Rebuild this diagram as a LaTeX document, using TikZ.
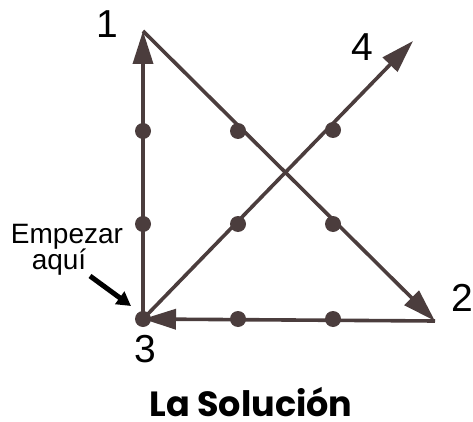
\documentclass[tikz,border=0pt]{standalone}
\usepackage{fontspec}
\setmainfont{Liberation Sans}
\newfontfamily\titlefont{Poppins}
\usetikzlibrary{arrows.meta}
\definecolor{linec}{HTML}{4B3D3D}
\tikzset{
  path/.style={draw=linec, line width=3.6pt, -{Triangle[length=33pt,width=20pt]}},
  dot/.style={circle, fill=linec, inner sep=0pt, minimum size=16pt},
  num/.style={font=\fontsize{39}{39}\selectfont, inner sep=0pt},
  lab/.style={font=\fontsize{28}{28}\selectfont, inner sep=0pt, anchor=base},
  startarrow/.style={draw=black, line width=5pt, -{Triangle[length=14pt,width=15pt]}}
}
\begin{document}
\begin{tikzpicture}[x=1pt,y=-1pt]
\useasboundingbox (0,0) rectangle (473,422);
% vertices
\coordinate (p1) at (143,31);
\coordinate (p2) at (435,321);
\coordinate (p3) at (143,319);
\coordinate (p4) at (413,41);
% path
\draw[path] (p3) -- (p1);
\draw[path] (p1) -- (p2);
\draw[path] (p2) -- (p3);
\draw[path] (p3) -- (p4);
% dots
\node[dot] (d11) at (143,131) {};
\node[dot] (d12) at (143,224) {};
\node[dot] (d13) at (143,319) {};
\node[dot] (d21) at (238,131) {};
\node[dot] (d22) at (238,224) {};
\node[dot] (d23) at (238,319) {};
\node[dot] (d31) at (333,130) {};
\node[dot] (d32) at (333,224) {};
\node[dot] (d33) at (333,319) {};
% numbers
\node[num] (n1) at (107,24) {1};
\node[num] (n4) at (362,47) {4};
\node[num] (n2) at (462,298) {2};
\node[num] (n3) at (145,349) {3};
% start label
\node[lab] (emp) at (67,243) {Empezar};
\node[lab] (aqui) at (59,269) {aquí};
\coordinate (s0) at (90,276);
\coordinate (s1) at (131,306);
\draw[startarrow] (s0) -- (s1);
% title
\node[font=\titlefont\bfseries\fontsize{35}{35}\selectfont, inner sep=0pt] (title) at (251,402) {La Solución};
\end{tikzpicture}
\end{document}
